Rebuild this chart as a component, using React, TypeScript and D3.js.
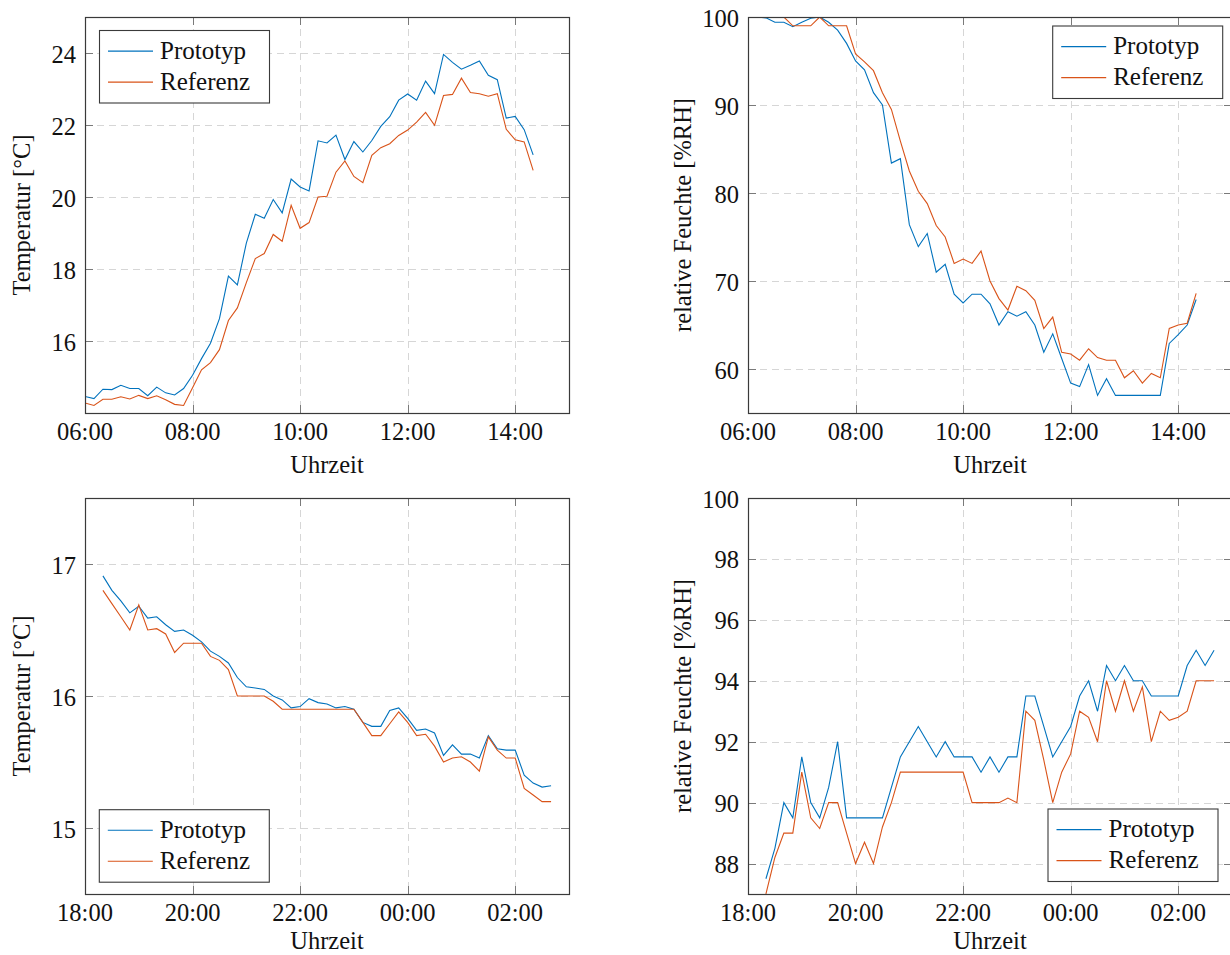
import * as d3 from "d3";
import { useEffect, useRef } from "react";

const seriesNames = ["Prototyp", "Referenz"];
const seriesColors = ["#0072BD", "#D95319"];

// day run: one sample every 10 minutes from 06:00
const tempDayProto = [14.46, 14.4, 14.66, 14.65, 14.77, 14.68, 14.68, 14.48, 14.72, 14.56, 14.5, 14.68, 15.05, 15.51, 15.94, 16.62, 17.8, 17.56, 18.72, 19.52, 19.41, 19.93, 19.56, 20.5, 20.28, 20.17, 21.56, 21.5, 21.72, 21.04, 21.54, 21.25, 21.57, 21.96, 22.23, 22.69, 22.86, 22.69, 23.22, 22.87, 23.96, 23.74, 23.55, 23.66, 23.78, 23.38, 23.26, 22.19, 22.24, 21.87, 21.17];
const tempDayRef = [14.28, 14.21, 14.38, 14.38, 14.45, 14.39, 14.49, 14.4, 14.48, 14.37, 14.24, 14.21, 14.7, 15.2, 15.4, 15.76, 16.57, 16.92, 17.62, 18.29, 18.43, 18.96, 18.77, 19.77, 19.13, 19.29, 20.0, 20.02, 20.69, 21.0, 20.57, 20.4, 21.16, 21.37, 21.48, 21.71, 21.86, 22.08, 22.35, 21.99, 22.82, 22.85, 23.3, 22.9, 22.87, 22.8, 22.87, 21.88, 21.59, 21.53, 20.74];
const humDayProto = [100, 100, 99.9, 99.4, 99.4, 98.9, 99.4, 99.85, 100, 99.4, 98.5, 97.0, 95.0, 94.0, 91.4, 90.0, 83.4, 83.9, 76.4, 73.9, 75.4, 71.0, 71.9, 68.5, 67.5, 68.5, 68.5, 67.4, 65.0, 66.5, 66.0, 66.5, 65.0, 61.9, 64.0, 61.2, 58.4, 58.0, 60.5, 57.0, 58.9, 57.0, 57.0, 57.0, 57.0, 57.0, 57.0, 62.9, 63.9, 65.0, 67.9];
const humDayRef = [100, 100, 100, 100, 100, 99.0, 99.0, 99.0, 100, 99.0, 99.0, 99.0, 95.8, 94.9, 93.9, 91.4, 89.5, 85.9, 82.5, 80.2, 78.8, 76.3, 75.0, 72.0, 72.5, 72.0, 73.4, 70.0, 68.0, 66.7, 69.4, 68.9, 67.8, 64.6, 65.9, 61.9, 61.7, 61.0, 62.3, 61.3, 61.0, 61.0, 59.0, 59.8, 58.4, 59.5, 59.0, 64.6, 65.0, 65.2, 68.6];

// night run: one sample every 10 minutes from 18:20
const tempNightProto = [16.91, 16.8, 16.72, 16.63, 16.68, 16.59, 16.6, 16.54, 16.49, 16.5, 16.46, 16.41, 16.34, 16.3, 16.25, 16.14, 16.07, 16.06, 16.05, 16.0, 15.97, 15.91, 15.92, 15.98, 15.95, 15.94, 15.91, 15.92, 15.9, 15.8, 15.77, 15.77, 15.89, 15.91, 15.83, 15.74, 15.75, 15.72, 15.55, 15.63, 15.56, 15.56, 15.53, 15.7, 15.6, 15.59, 15.59, 15.4, 15.34, 15.31, 15.32];
const tempNightRef = [16.8, 16.7, 16.6, 16.5, 16.69, 16.5, 16.51, 16.47, 16.33, 16.4, 16.4, 16.4, 16.3, 16.27, 16.2, 16.0, 16.0, 16.0, 16.0, 15.96, 15.9, 15.9, 15.9, 15.9, 15.9, 15.9, 15.9, 15.9, 15.9, 15.8, 15.7, 15.7, 15.79, 15.88, 15.8, 15.7, 15.71, 15.62, 15.5, 15.53, 15.54, 15.5, 15.43, 15.69, 15.59, 15.53, 15.53, 15.3, 15.25, 15.2, 15.2];
const humNightProto = [87.5, 88.5, 90.0, 89.5, 91.5, 90.0, 89.5, 90.5, 92.0, 89.5, 89.5, 89.5, 89.5, 89.5, 90.5, 91.5, 92.0, 92.5, 92.0, 91.5, 92.0, 91.5, 91.5, 91.5, 91.0, 91.5, 91.0, 91.5, 91.5, 93.5, 93.5, 92.5, 91.5, 92.0, 92.5, 93.5, 94.0, 93.0, 94.5, 94.0, 94.5, 94.0, 94.0, 93.5, 93.5, 93.5, 93.5, 94.5, 95.0, 94.5, 95.0];
const humNightRef = [87.0, 88.2, 89.0, 89.0, 91.0, 89.5, 89.15, 90.0, 90.0, 89.0, 88.0, 88.7, 88.0, 89.2, 90.0, 91.0, 91.0, 91.0, 91.0, 91.0, 91.0, 91.0, 91.0, 90.0, 90.0, 90.0, 90.0, 90.15, 90.0, 93.0, 92.7, 91.4, 90.0, 91.0, 91.6, 93.0, 92.8, 92.0, 94.0, 93.0, 94.0, 93.0, 93.8, 92.0, 93.0, 92.7, 92.8, 93.0, 94.0, 94.0, 94.0];

const tempTicksDay = [16, 18, 20, 22, 24];
const humTicksDay = [60, 70, 80, 90, 100];
const tempTicksNight = [15, 16, 17];
const humTicksNight = [88, 90, 92, 94, 96, 98, 100];

const FONT = "'Liberation Serif', 'Times New Roman', serif";
const W = 484;
const H = 396;

const day = (h, m = 0) => new Date(2021, 4, 10, h, m);
const night = (h, m = 0) => new Date(2021, 4, h < 12 ? 11 : 10, h, m);

const panels = [
  {
    left: 85, top: 17, xDomain: [day(6), day(15)], first: day(6),
    yDomain: [14, 25], yTicks: tempTicksDay, yLabel: "Temperatur [°C]", yLabelX: 30,
    series: [tempDayProto, tempDayRef], legend: [99.5, 30.5],
  },
  {
    left: 748, top: 17, xDomain: [day(6), day(15)], first: day(6),
    yDomain: [55, 100], yTicks: humTicksDay, yLabel: "relative Feuchte [%RH]", yLabelX: 691,
    series: [humDayProto, humDayRef], legend: [1052.7, 26],
  },
  {
    left: 85, top: 498, xDomain: [night(18), night(3)], first: night(18, 20),
    yDomain: [14.5, 17.5], yTicks: tempTicksNight, yLabel: "Temperatur [°C]", yLabelX: 30,
    series: [tempNightProto, tempNightRef], legend: [99.3, 809.7],
  },
  {
    left: 748, top: 498, xDomain: [night(18), night(3)], first: night(18, 20),
    yDomain: [87, 100], yTicks: humTicksNight, yLabel: "relative Feuchte [%RH]", yLabelX: 691,
    series: [humNightProto, humNightRef], legend: [1048, 809],
  },
];

const drawPanel = (svg, p, idx) => {
  const x = d3.scaleTime().domain(p.xDomain).range([p.left, p.left + W]);
  const y = d3.scaleLinear().domain(p.yDomain).range([p.top + H, p.top]);
  const xTicks = x.ticks(d3.timeHour.every(2));
  const fmt = d3.timeFormat("%H:%M");
  const g = svg.append("g");

  g.append("clipPath")
    .attr("id", "clip" + idx)
    .append("rect")
    .attr("x", p.left)
    .attr("y", p.top)
    .attr("width", W)
    .attr("height", H);

  // dashed grid
  g.selectAll(".vgrid")
    .data(xTicks)
    .enter()
    .append("line")
    .attr("x1", (d) => Math.round(x(d)) + 0.5)
    .attr("x2", (d) => Math.round(x(d)) + 0.5)
    .attr("y1", p.top)
    .attr("y2", p.top + H)
    .attr("stroke", "#d6d6d6")
    .attr("stroke-dasharray", "7 5");
  g.selectAll(".hgrid")
    .data(p.yTicks)
    .enter()
    .append("line")
    .attr("x1", p.left)
    .attr("x2", p.left + W)
    .attr("y1", (d) => Math.round(y(d)) + 0.5)
    .attr("y2", (d) => Math.round(y(d)) + 0.5)
    .attr("stroke", "#d6d6d6")
    .attr("stroke-dasharray", "7 5");

  // inner tick marks on all four sides
  const tl = 8;
  xTicks.forEach((d) => {
    const xx = Math.round(x(d)) + 0.5;
    g.append("line").attr("x1", xx).attr("x2", xx).attr("y1", p.top + H).attr("y2", p.top + H - tl).attr("stroke", "#7a7a7a");
    g.append("line").attr("x1", xx).attr("x2", xx).attr("y1", p.top).attr("y2", p.top + tl).attr("stroke", "#7a7a7a");
  });
  p.yTicks.forEach((d) => {
    const yy = Math.round(y(d)) + 0.5;
    g.append("line").attr("x1", p.left).attr("x2", p.left + tl).attr("y1", yy).attr("y2", yy).attr("stroke", "#7a7a7a");
    g.append("line").attr("x1", p.left + W).attr("x2", p.left + W - tl).attr("y1", yy).attr("y2", yy).attr("stroke", "#7a7a7a");
  });

  // data lines
  const line = d3
    .line()
    .x((d, i) => x(d3.timeMinute.offset(p.first, i * 10)))
    .y((d) => y(d));
  p.series.forEach((s, k) => {
    g.append("path")
      .datum(s)
      .attr("clip-path", `url(#clip${idx})`)
      .attr("fill", "none")
      .attr("stroke", seriesColors[k])
      .attr("stroke-width", 1.1)
      .attr("stroke-linejoin", "miter")
      .attr("d", line);
  });

  // frame
  g.append("rect")
    .attr("x", p.left + 0.5)
    .attr("y", p.top + 0.5)
    .attr("width", W)
    .attr("height", H)
    .attr("fill", "none")
    .attr("stroke", "#3a3a3a")
    .attr("stroke-width", 1.2);

  // tick labels
  g.selectAll(".xl")
    .data(xTicks)
    .enter()
    .append("text")
    .attr("x", (d) => x(d))
    .attr("y", p.top + H + 26.5)
    .attr("text-anchor", "middle")
    .attr("font-family", FONT)
    .attr("font-size", 24.5)
    .attr("fill", "#111")
    .text((d) => fmt(d));
  g.selectAll(".yl")
    .data(p.yTicks)
    .enter()
    .append("text")
    .attr("x", p.left - 9)
    .attr("y", (d) => y(d) + 9.5)
    .attr("text-anchor", "end")
    .attr("font-family", FONT)
    .attr("font-size", 24.5)
    .attr("fill", "#111")
    .text((d) => d);

  // axis labels
  g.append("text")
    .attr("x", p.left + W / 2)
    .attr("y", Math.min(p.top + H + 59.5, 949))
    .attr("text-anchor", "middle")
    .attr("font-family", FONT)
    .attr("font-size", 24.5)
    .attr("fill", "#111")
    .text("Uhrzeit");
  g.append("text")
    .attr("transform", `translate(${p.yLabelX},${p.top + H / 2}) rotate(-90)`)
    .attr("text-anchor", "middle")
    .attr("font-family", FONT)
    .attr("font-size", 24.5)
    .attr("fill", "#111")
    .text(p.yLabel);

  // legend
  const [lx, ly] = p.legend;
  const lg = g.append("g").attr("transform", `translate(${lx},${ly})`);
  lg.append("rect")
    .attr("width", 170)
    .attr("height", 72.5)
    .attr("fill", "white")
    .attr("stroke", "#3a3a3a")
    .attr("stroke-width", 1.1);
  seriesNames.forEach((name, k) => {
    const ry = 20.6 + k * 31;
    lg.append("line")
      .attr("x1", 8.5)
      .attr("x2", 53.5)
      .attr("y1", ry)
      .attr("y2", ry)
      .attr("stroke", seriesColors[k])
      .attr("stroke-width", 1.1);
    lg.append("text")
      .attr("x", 60.5)
      .attr("y", ry + 7.8)
      .attr("font-family", FONT)
      .attr("font-size", 25)
      .attr("fill", "#111")
      .text(name);
  });
};

const App = () => {
  const ref = useRef(null);

  useEffect(() => {
    const svg = d3.select(ref.current);
    svg.selectAll("*").remove();
    panels.forEach((p, i) => drawPanel(svg, p, i));
  }, []);

  return (
    <svg
      ref={ref}
      width={1230}
      height={955}
      style={{ position: "absolute", left: 0, top: 0, background: "white" }}
    />
  );
};

export default App;
